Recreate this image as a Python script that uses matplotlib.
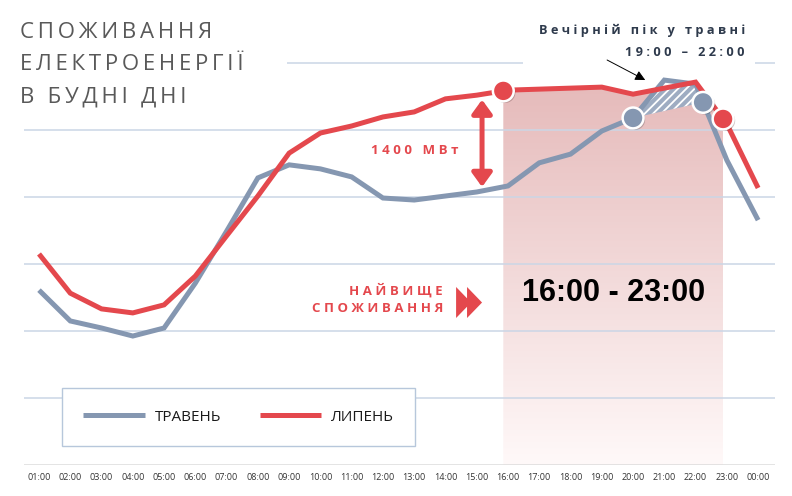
import numpy as np
import matplotlib
matplotlib.use("Agg")
import matplotlib.pyplot as plt
import matplotlib.patheffects as pe
from matplotlib.patches import PathPatch, Polygon

# hourly weekday consumption, MW
hours = ["01:00", "02:00", "03:00", "04:00", "05:00", "06:00", "07:00", "08:00",
         "09:00", "10:00", "11:00", "12:00", "13:00", "14:00", "15:00", "16:00",
         "17:00", "18:00", "19:00", "20:00", "21:00", "22:00", "23:00", "00:00"]
may_mw = [12610, 12150, 12045, 11925, 12045, 12715, 13490, 14285,
          14480, 14420, 14300, 13985, 13955, 14015, 14075, 14165,
          14510, 14640, 14985, 15180, 15745, 15685, 14550, 13655]
july_mw = [13150, 12565, 12330, 12270, 12390, 12820, 13420, 14015,
           14655, 14955, 15060, 15195, 15270, 15465, 15520, 15595,
           15610, 15625, 15640, 15535, 15625, 15715, 15090, 14135]
grid_mw = [11000, 12000, 13000, 14000, 15000, 16000]
series_names = ["ТРАВЕНЬ", "ЛИПЕНЬ"]

red = "#e4484d"
blue = "#8597b1"
grid_color = "#cad6e6"
fonts = ["Open Sans", "DejaVu Sans"]
x = np.arange(len(hours))
may = np.array(may_mw, dtype=float)
july = np.array(july_mw, dtype=float)


def spaced(s, sep=" "):
    return sep.join(s)


fig = plt.figure(figsize=(7.92, 4.96), dpi=100)
ax = fig.add_axes([24 / 792, 31 / 496, 751 / 792, 445 / 496])
ax.set_xlim(-0.48, 23.54)
ax.set_ylim(10000, 16642)

# grid
for g in grid_mw[:-1]:
    ax.axhline(g, color=grid_color, lw=1.1, zorder=0.5)
ax.hlines(grid_mw[-1], 7.93, 15.48, color=grid_color, lw=1.1, zorder=0.5)
ax.hlines(grid_mw[-1], 22.9, 23.54, color=grid_color, lw=1.1, zorder=0.5)
ax.axhline(10000, color="#dcdcdc", lw=1.1, zorder=0.5)

# peak hours shading under the July line
peak_start, peak_end = 14.85, 21.88
xs = np.linspace(peak_start, peak_end, 200)
top = np.interp(xs, x, july)
shade = ax.fill_between(xs, 10000, top, color="none", lw=0)
clip = PathPatch(shade.get_paths()[0], transform=ax.transData, fc="none", ec="none")
ax.add_patch(clip)
c_top = np.array([0.90, 0.73, 0.73])
c_bot = np.array([1.0, 0.975, 0.975])
t = np.linspace(0, 1, 256)[:, None]
grad = (c_bot * (1 - t) + c_top * t)[:, None, :]
im = ax.imshow(grad, extent=[peak_start, peak_end, 10000, top.max()],
               origin="lower", aspect="auto", zorder=0.3, interpolation="bilinear")
im.set_clip_path(clip)

# evening peak in May, hatched
hatch_x = [19, 21.24]
hx = np.linspace(hatch_x[0], hatch_x[1], 100)
h_low = np.interp(hx, hatch_x, np.interp(hatch_x, x, may))
h_top = np.minimum(np.interp(hx, x, may), np.interp(hx, x, july))
plt.rcParams["hatch.linewidth"] = 1.3
ax.fill_between(hx, h_low, h_top, where=h_top >= h_low, facecolor="#9eacc2",
                edgecolor="white", hatch="////", lw=0, zorder=1)

# lines
ax.plot(x, may, color=blue, lw=3.6, label=series_names[0], zorder=2,
        solid_capstyle="butt", solid_joinstyle="miter")
ax.plot(x, july, color=red, lw=3.6, label=series_names[1], zorder=3,
        solid_capstyle="butt", solid_joinstyle="miter")

shadow = [pe.SimplePatchShadow(offset=(1.2, -1.2), alpha=0.25), pe.Normal()]
ax.plot(hatch_x, np.interp(hatch_x, x, may), ls="none", marker="o", ms=15,
        mfc=blue, mec="white", mew=1.8, zorder=5, path_effects=shadow)
red_pts = [peak_start, peak_end]
ax.plot(red_pts, np.interp(red_pts, x, july), ls="none", marker="o", ms=15,
        mfc=red, mec="white", mew=1.8, zorder=5, path_effects=shadow)

# 1400 MW gap arrow
gap_x = 14.17
ax.annotate("", xy=(gap_x, np.interp(gap_x, x, july) - 80),
            xytext=(gap_x, np.interp(gap_x, x, may) + 60),
            arrowprops=dict(arrowstyle="<|-|>,head_width=0.4,head_length=0.55",
                            color=red, lw=3.6, mutation_scale=15, shrinkA=0, shrinkB=0),
            zorder=4)
ax.text(12.03, 14701, spaced("1400 МВт"), color=red, fontsize=9.5,
        fontweight="bold", family=fonts, ha="center", va="center")

# highest consumption
ax.text(12.92, 12612, spaced("НАЙВИЩЕ"), color=red, fontsize=9.5,
        fontweight="bold", family=fonts, ha="right", va="center")
ax.text(12.92, 12343, spaced("СПОЖИВАННЯ"), color=red, fontsize=9.5,
        fontweight="bold", family=fonts, ha="right", va="center")
for x0 in (13.34, 13.69):
    ax.add_patch(Polygon([(x0, 12657), (x0 + 0.48, 12425), (x0, 12194)],
                         closed=True, fc=red, ec="none", zorder=4))
ax.text((peak_start + peak_end) / 2, 12567, "16:00 - 23:00", color="black",
        fontsize=22, fontweight="bold", family="Liberation Sans",
        ha="center", va="center", zorder=6)

# evening peak note
note_color = "#2e3a4c"
ax.text(22.58, 16492, spaced("Вечірній пік у травні"), color=note_color,
        fontsize=9.2, fontweight="bold", family=fonts, ha="right", va="center")
ax.text(22.58, 16164, spaced("19:00 – 22:00"), color=note_color,
        fontsize=9.2, fontweight="bold", family=fonts, ha="right", va="center")
ax.annotate("", xy=(19.39, 15746), xytext=(18.17, 16045),
            arrowprops=dict(arrowstyle="-|>,head_width=0.3,head_length=0.6",
                            color="black", lw=0.7, mutation_scale=10,
                            shrinkA=0, shrinkB=0), zorder=6)

# title
title_lines = ["СПОЖИВАННЯ", "ЕЛЕКТРОЕНЕРГІЇ", "В БУДНІ ДНІ"]
for line, ypx in zip(title_lines, [33, 64.5, 97]):
    fig.text(20 / 792, 1 - ypx / 496, spaced(line, "\u2009"), color="#595959",
             fontsize=16, family=fonts, ha="left", va="center")

# axes styling
for s in ax.spines.values():
    s.set_visible(False)
ax.set_yticks([])
ax.set_xticks(x, hours, fontsize=6.5, color="#333333", family="Open Sans")
ax.tick_params(axis="x", length=0, pad=6)

leg = ax.legend(loc="lower left", bbox_to_anchor=(0.0506, 0.0424), ncol=2,
                frameon=True, fancybox=False, edgecolor="#b7c7db", framealpha=1,
                prop=dict(family="Open Sans", size=11), handlelength=4.0,
                handletextpad=0.65, columnspacing=2.55, borderpad=1.4,
                borderaxespad=0)
leg.get_frame().set_linewidth(1.0)
for txt in leg.get_texts():
    txt.set_color("#1a1a1a")

fig.savefig("out.png", dpi=100)
